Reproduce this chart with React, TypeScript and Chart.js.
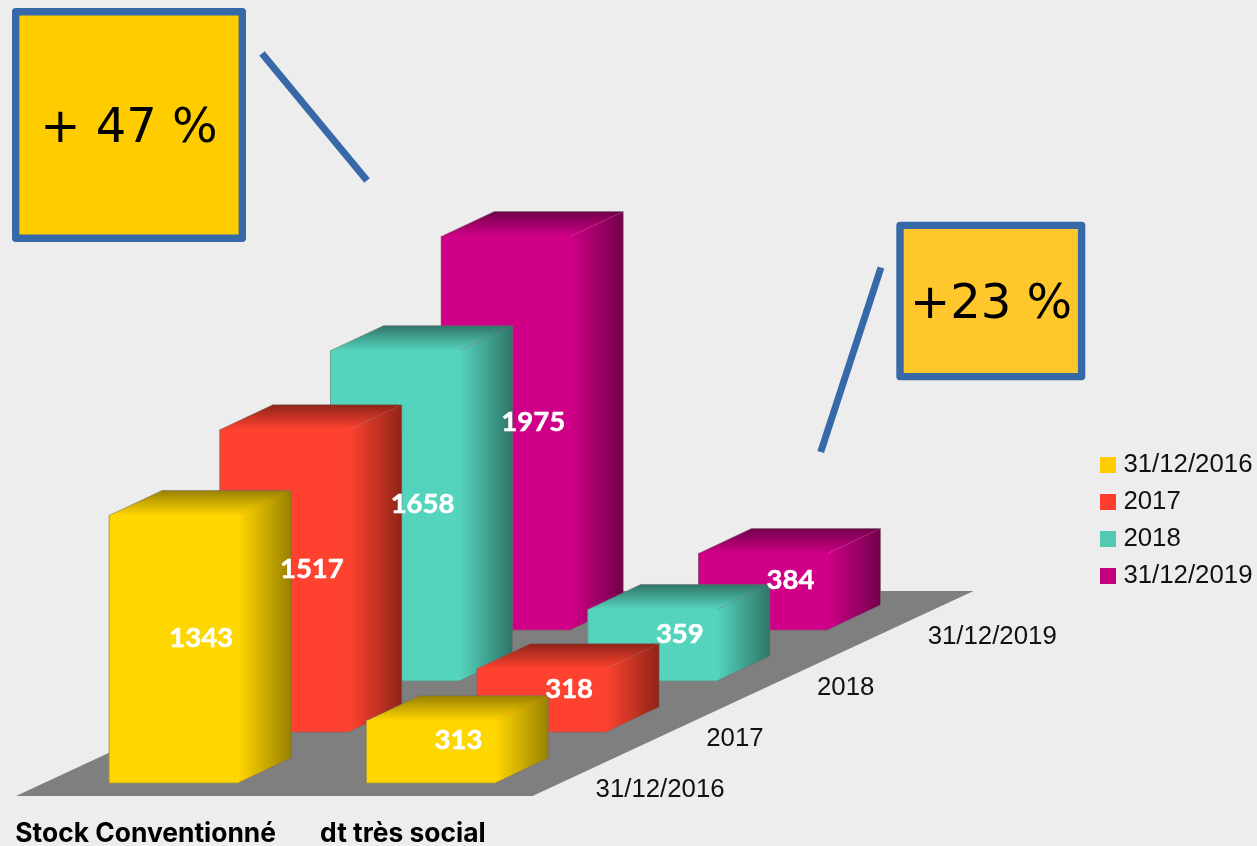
import React, { useEffect, useRef } from "react";
import Chart from "chart.js/auto";

const categories = ["Stock Conventionné", "dt très social"];
const seriesNames = ["31/12/2016", "2017", "2018", "31/12/2019"];
const stockConventionne = [1343, 1517, 1658, 1975];
const tresSocial = [313, 318, 359, 384];

const barColors = ["#FFD700", "#FF4230", "#55D4BD", "#CF0087"];
const shadeColors = ["#998100", "#8F2418", "#2F7567", "#72004B"];
const legendColors = ["#FFCC00", "#FF3D2E", "#54C9B2", "#C4007F"];

const W = 1257;
const H = 846;
const AREA_TOP = 194;
const PX_PER_UNIT = 0.1992;
const STEP_X = 110.7;
const STEP_Y = 51;
const DEPTH_X = 53;
const DEPTH_Y = 25;
const TEXT = "#111111";
const BLUE = "#3768A8";

const legendSwatch = (color: string) => {
  const c = document.createElement("canvas");
  c.width = 16;
  c.height = 16;
  const g = c.getContext("2d")!;
  g.fillStyle = color;
  g.fillRect(0, 0, 16, 16);
  return c;
};

const drawCallout = (
  ctx: CanvasRenderingContext2D,
  box: number[],
  fill: string,
  text: string,
  tx: number,
  ty: number,
  line: number[]
) => {
  const [x0, y0, x1, y1] = box;
  ctx.save();
  ctx.lineJoin = "round";
  ctx.lineWidth = 7.4;
  ctx.strokeStyle = BLUE;
  ctx.fillStyle = fill;
  ctx.beginPath();
  ctx.rect(x0, y0, x1 - x0, y1 - y0);
  ctx.fill();
  ctx.stroke();
  ctx.lineWidth = 7;
  ctx.lineCap = "butt";
  ctx.beginPath();
  ctx.moveTo(line[0], line[1]);
  ctx.lineTo(line[2], line[3]);
  ctx.stroke();
  ctx.fillStyle = "#000000";
  ctx.font = '48px "DejaVu Sans"';
  ctx.textAlign = "center";
  ctx.textBaseline = "alphabetic";
  ctx.fillText(text, tx, ty);
  ctx.restore();
};

const bar3d = {
  id: "bar3d",
  beforeDraw(chart: any) {
    const { ctx } = chart;
    ctx.save();
    ctx.fillStyle = "#EDEDED";
    ctx.fillRect(0, 0, W, H);
    ctx.restore();
  },
  afterDatasetUpdate(chart: any, args: any) {
    const i = args.index;
    args.meta.data.forEach((el: any) => {
      el.x += STEP_X * i;
      el.y -= STEP_Y * i;
      el.base -= STEP_Y * i;
    });
  },
  beforeDatasetsDraw(chart: any) {
    const { ctx, scales } = chart;
    const base = scales.y.getPixelForValue(0);
    const yF = base + 13;
    const xL = scales.x.left - 29;
    const xR = scales.x.right - 27;
    const n = seriesNames.length;
    ctx.save();
    ctx.fillStyle = "#7F7F7F";
    ctx.beginPath();
    ctx.moveTo(xL, yF);
    ctx.lineTo(xR, yF);
    ctx.lineTo(xR + n * STEP_X - 1.8, yF - n * STEP_Y - 1);
    ctx.lineTo(xL + n * STEP_X - 1.8, yF - n * STEP_Y - 1);
    ctx.closePath();
    ctx.fill();
    ctx.font = '25.8px "Liberation Sans"';
    ctx.fillStyle = TEXT;
    ctx.textAlign = "left";
    ctx.textBaseline = "middle";
    seriesNames.forEach((name, i) => {
      ctx.fillText(name, xR + 63 + STEP_X * i, yF - 6.5 - STEP_Y * i);
    });
    ctx.restore();
  },
  afterDatasetDraw(chart: any, args: any) {
    const { ctx } = chart;
    const i = args.index;
    args.meta.data.forEach((el: any) => {
      const half = el.width / 2;
      const l = el.x - half;
      const r = el.x + half;
      const t = el.y;
      const b = el.base;
      const side = ctx.createLinearGradient(r, 0, r + DEPTH_X, 0);
      side.addColorStop(0, barColors[i]);
      side.addColorStop(1, shadeColors[i]);
      ctx.save();
      const top = ctx.createLinearGradient(0, t - DEPTH_Y, 0, t);
      top.addColorStop(0, shadeColors[i]);
      top.addColorStop(1, barColors[i]);
      ctx.fillStyle = top;
      ctx.beginPath();
      ctx.moveTo(l, t + 1);
      ctx.lineTo(l, t);
      ctx.lineTo(l + DEPTH_X, t - DEPTH_Y);
      ctx.lineTo(r + DEPTH_X, t - DEPTH_Y);
      ctx.lineTo(r, t);
      ctx.lineTo(r, t + 1);
      ctx.closePath();
      ctx.fill();
      ctx.fillStyle = side;
      ctx.beginPath();
      ctx.moveTo(r - 1, t + 1);
      ctx.lineTo(r, t);
      ctx.lineTo(r + DEPTH_X, t - DEPTH_Y);
      ctx.lineTo(r + DEPTH_X, b - DEPTH_Y);
      ctx.lineTo(r, b);
      ctx.lineTo(r - 1, b);
      ctx.closePath();
      ctx.fill();
      ctx.strokeStyle = "rgba(110,110,110,0.55)";
      ctx.lineWidth = 1;
      ctx.beginPath();
      ctx.moveTo(l, b);
      ctx.lineTo(l, t);
      ctx.lineTo(l + DEPTH_X, t - DEPTH_Y);
      ctx.lineTo(r + DEPTH_X, t - DEPTH_Y);
      ctx.lineTo(r + DEPTH_X, b - DEPTH_Y);
      ctx.lineTo(r, b);
      ctx.closePath();
      ctx.stroke();
      ctx.restore();
    });
  },
  afterDatasetsDraw(chart: any) {
    const { ctx } = chart;
    ctx.save();
    ctx.fillStyle = "#FFFFFF";
    ctx.strokeStyle = "#FFFFFF";
    ctx.lineWidth = 0.5;
    ctx.font = 'bold 27.5px "Lato"';
    ctx.textAlign = "center";
    ctx.textBaseline = "middle";
    chart.data.datasets.forEach((ds: any, i: number) => {
      chart.getDatasetMeta(i).data.forEach((el: any, j: number) => {
        const x = el.x + DEPTH_X / 2 + 1;
        const y = (el.y + el.base) / 2 - DEPTH_Y / 2 + 1;
        ctx.fillText(String(ds.data[j]), x, y);
        ctx.strokeText(String(ds.data[j]), x, y);
      });
    });
    ctx.restore();
  },
  afterDraw(chart: any) {
    const { ctx } = chart;
    drawCallout(ctx, [15.7, 11.7, 242.3, 238.3], "#FFCC00", "+ 47 %", 129, 141.7, [262, 53.5, 367, 180.5]);
    drawCallout(ctx, [900, 225.4, 1081.6, 376.6], "#FFC72C", "+23 %", 991, 318, [881, 267.5, 820.7, 452]);
  },
};

export default function App() {
  const ref = useRef<HTMLCanvasElement>(null);
  useEffect(() => {
    const chart = new Chart(ref.current!, {
      type: "bar",
      plugins: [bar3d as any],
      data: {
        labels: categories,
        datasets: seriesNames.map((name, i) => ({
          label: name,
          data: [stockConventionne[i], tresSocial[i]],
          backgroundColor: barColors[i],
          barThickness: 129,
          grouped: false,
          clip: false as any,
        })),
      },
      options: {
        responsive: false,
        animation: false,
        layout: { padding: { left: 45, top: AREA_TOP, right: -5.5, bottom: 0 } },
        plugins: {
          tooltip: { enabled: false },
          title: { display: false },
          legend: {
            position: "right",
            labels: {
              usePointStyle: true,
              pointStyleWidth: 4.25,
              padding: 11.2,
              color: TEXT,
              font: { family: '"Liberation Sans"', size: 25.8 },
              generateLabels: () =>
                seriesNames.map((name, i) => ({
                  text: name,
                  pointStyle: legendSwatch(legendColors[i]) as any,
                  datasetIndex: i,
                  fontColor: TEXT,
                })),
            },
          },
        },
        scales: {
          x: {
            grid: { display: false },
            border: { display: false },
            ticks: {
              autoSkip: false,
              maxRotation: 0,
              minRotation: 0,
              labelOffset: -28,
              padding: 27,
              color: "#000000",
              font: { family: '"Inter"', size: 26.4, weight: "bold" },
            },
            afterFit: (s: any) => {
              s.height = H - 783;
            },
          },
          y: {
            position: "right",
            min: 0,
            max: (783 - AREA_TOP) / PX_PER_UNIT,
            grid: { display: false },
            border: { display: false },
            ticks: { display: false },
            afterFit: (s: any) => {
              s.width = 535.5;
            },
          },
        },
      },
    });
    return () => chart.destroy();
  }, []);
  return (
    <div style={{ position: "fixed", left: 0, top: 0, width: W, height: H }}>
      <canvas ref={ref} width={W} height={H} style={{ display: "block" }} />
    </div>
  );
}
